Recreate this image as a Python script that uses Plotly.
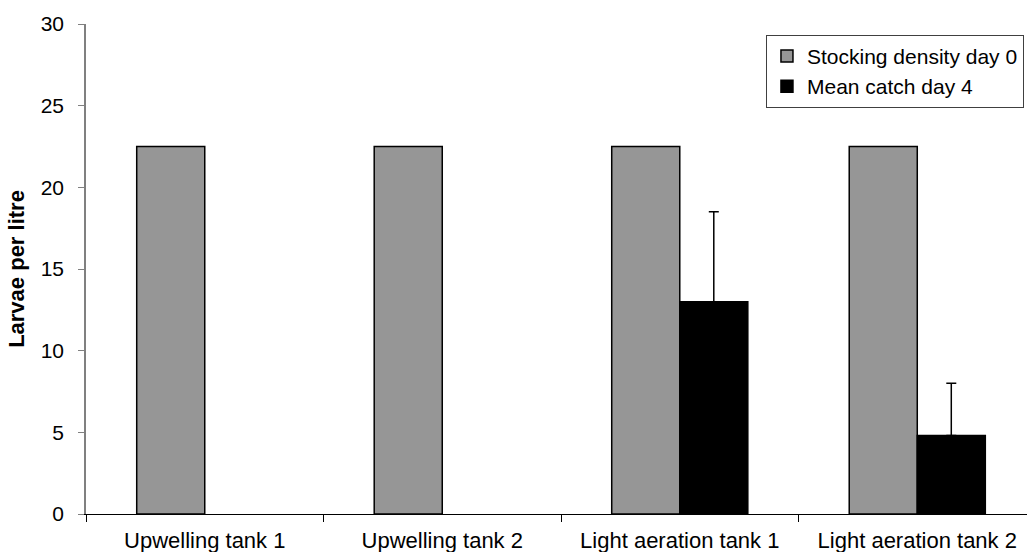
import plotly.graph_objects as go

categories = ["Upwelling tank 1", "Upwelling tank 2", "Light aeration tank 1", "Light aeration tank 2"]
stocking = [22.5, 22.5, 22.5, 22.5]
mean_catch = [None, None, 13.0, 4.8]
catch_err = [0, 0, 5.5, 3.2]

fig = go.Figure()
fig.add_trace(go.Bar(
    x=categories, y=stocking, name="Stocking density day 0",
    marker=dict(color="#969696", line=dict(color="black", width=1.5)),
))
fig.add_trace(go.Bar(
    x=categories, y=mean_catch, name="Mean catch day 4",
    marker=dict(color="black", line=dict(color="black", width=1.5)),
    error_y=dict(type="data", array=catch_err, arrayminus=[0]*4, symmetric=False,
                 color="black", thickness=1.5, width=5),
))

fig.update_layout(
    width=1027, height=552,
    margin=dict(l=86, r=0, t=24, b=38),
    paper_bgcolor="white", plot_bgcolor="white",
    barmode="group", bargap=0.427, bargroupgap=0,
    font=dict(family="Liberation Sans, Arial, sans-serif", color="black"),
    showlegend=True,
    legend=dict(x=0.7226, y=0.978, xanchor="left", yanchor="top",
                bordercolor="#404040", borderwidth=1, bgcolor="white",
                font=dict(size=21), tracegroupgap=2, itemwidth=30),
    xaxis=dict(type="category", range=[-0.5, 3.462], tickson="boundaries",
               ticks="outside", ticklen=7, tickcolor="black",
               showline=True, linecolor="black", linewidth=1,
               tickfont=dict(size=22), showgrid=False, ticklabelstandoff=7),
    yaxis=dict(range=[0, 30], dtick=5, ticks="outside", ticklen=6, tickcolor="#808080",
               showline=True, linecolor="#808080", linewidth=1.5,
               tickfont=dict(size=21), showgrid=False, zeroline=False,
               ticklabelstandoff=10,
               title=dict(text="<b>Larvae per litre</b>", font=dict(size=22), standoff=10)),
)

fig.write_html("out.html")
